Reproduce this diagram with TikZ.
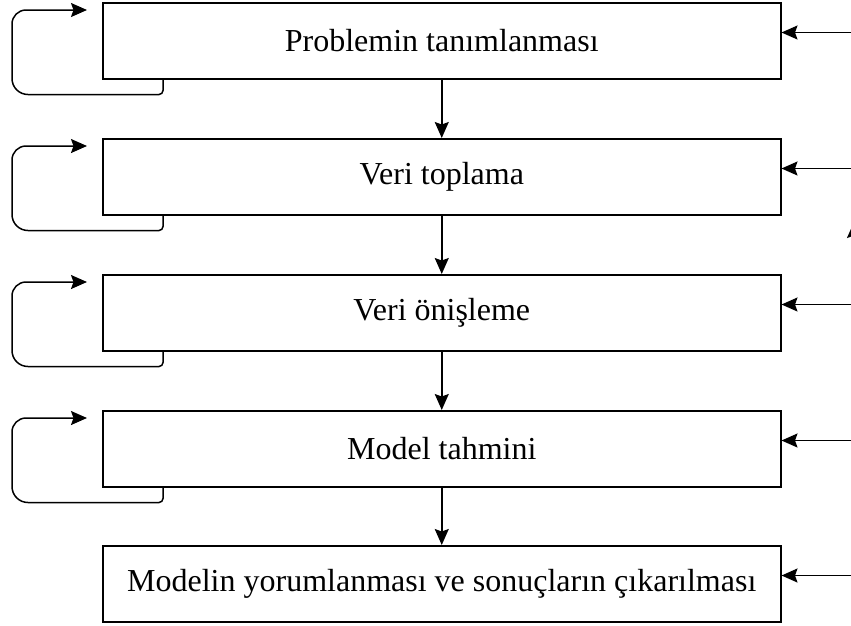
\documentclass[tikz,border=0pt]{standalone}
\usepackage{fontspec}
\setmainfont{Liberation Serif}
\usetikzlibrary{arrows.meta}
\begin{document}
\begin{tikzpicture}[x=1pt,y=-1pt,
  stepbox/.style={draw, line width=1.5pt, minimum width=678pt, minimum height=76pt,
    inner sep=0pt, anchor=north west, font=\fontsize{32}{36}\selectfont},
  flow/.style={line width=1.5pt, -{Stealth[length=16pt,width=14pt,inset=2.5pt]}},
  feedback/.style={flow}]
  \clip (0,0) rectangle (851,625);

  % process steps
  \node[stepbox] (b1) at (102,2)   {Problemin tanımlanması};
  \node[stepbox] (b2) at (102,138) {Veri toplama};
  \node[stepbox] (b3) at (102,274) {Veri önişleme};
  \node[stepbox] (b4) at (102,410) {Model tahmini};
  \node[stepbox] (b5) at (102,545) {Modelin yorumlanması ve sonuçların çıkarılması};

  % downward flow
  \draw[flow] (b1) -- (b2);
  \draw[flow] (b2) -- (b3);
  \draw[flow] (b3) -- (b4);
  \draw[flow] (b4) -- (b5);

  % self-loops on the left
  \foreach \b in {b1,b2,b3,b4}{
    \coordinate (\b-in) at ([xshift=-15pt,yshift=-8pt]\b.north west);
    \draw[feedback] ([xshift=61pt]\b.south west)
      [rounded corners=4pt] -- ([xshift=61pt,yshift=-15pt]\b.south west)
      [rounded corners=16pt] -- ([xshift=-90pt,yshift=-15pt]\b.south west)
      [rounded corners=14pt] -- ([xshift=-75pt]\b-in)
      [sharp corners] -- (\b-in);
  }

  % inputs from the right
  \foreach \b in {b1,b2,b3,b4,b5}{
    \coordinate (\b-r) at ([xshift=75pt,yshift=-30.5pt]\b.north east);
    \draw[flow] (\b-r) -- ([yshift=-30.5pt]\b.north east);
  }

  % arrow entering from below at the right edge
  \coordinate (u0) at (854,260);
  \coordinate (u1) at (854,222);
  \draw[flow] (u0) -- (u1);
\end{tikzpicture}
\end{document}
